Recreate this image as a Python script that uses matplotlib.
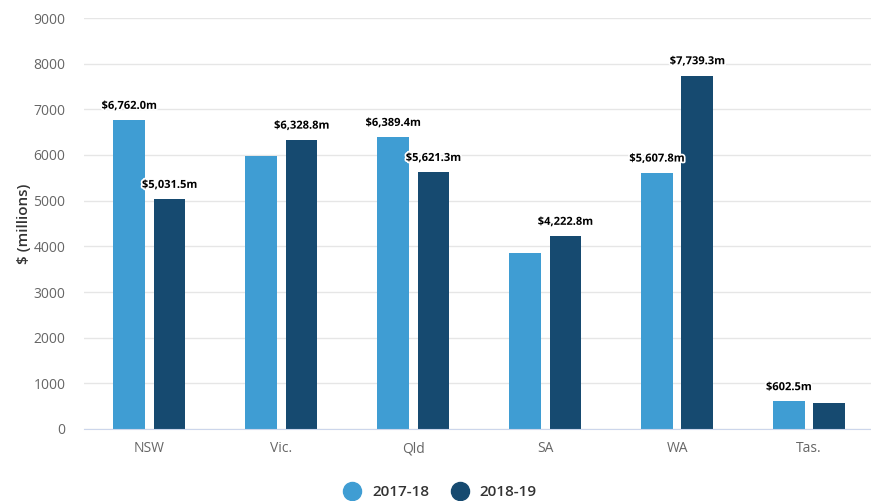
import matplotlib
matplotlib.use("Agg")
import matplotlib.pyplot as plt
import matplotlib.patheffects as pe
from matplotlib.lines import Line2D
import numpy as np

categories = ["NSW", "Vic.", "Qld", "SA", "WA", "Tas."]
series_names = ["2017-18", "2018-19"]
values_1718 = [6762.0, 5973.0, 6389.4, 3845.0, 5607.8, 602.5]
values_1819 = [5031.5, 6328.8, 5621.3, 4222.8, 7739.3, 570.0]
# which data labels are displayed (others hidden due to overlap in the original)
show_1718 = [True, False, True, False, True, True]
show_1819 = [True, True, True, True, True, False]
colors = ["#3f9dd3", "#164a70"]
yticks = [0, 1000, 2000, 3000, 4000, 5000, 6000, 7000, 8000, 9000]

plt.rcParams['font.family'] = ['Open Sans', 'DejaVu Sans']

fig = plt.figure(figsize=(8.71, 5.01), dpi=100)
ax = fig.add_axes([83.5/871, 72/501, (875-83.5)/871, (429-18)/501])

x = np.arange(len(categories))
w = 0.24
off = 0.153
for vals, shows, c, dx in [(values_1718, show_1718, colors[0], -off),
                           (values_1819, show_1819, colors[1], off)]:
    bars = ax.bar(x + dx, vals, width=w, color=c, zorder=3)
    for xi, v, s in zip(x, vals, shows):
        if s:
            t = ax.annotate(f"${v:,.1f}m", (xi + dx, v), xytext=(0, 6),
                            textcoords="offset points", ha="center", va="bottom",
                            fontsize=8, fontweight="bold", color="#000000", zorder=5)
            t.set_path_effects([pe.withStroke(linewidth=2.5, foreground="white")])

ax.set_xlim(-0.5, len(categories) - 0.5)
ax.set_ylim(0, 9000)
ax.set_yticks(yticks)
ax.set_yticklabels([str(v) for v in yticks])
ax.set_xticks(x)
ax.set_xticklabels(categories)
ax.grid(axis="y", color="#e6e6e6", linewidth=1, zorder=0)
ax.set_axisbelow(True)
for s in ["top", "right", "left"]:
    ax.spines[s].set_visible(False)
ax.spines["bottom"].set_color("#ccd6eb")
ax.spines["bottom"].set_zorder(4)
ax.tick_params(axis="y", length=0, pad=13, labelsize=10, labelcolor="#666666")
ax.tick_params(axis="x", length=0, pad=9, labelsize=10, labelcolor="#666666")
ax.set_ylabel("$ (millions)", fontsize=11, color="#333333", labelpad=2,
              fontweight="semibold")

handles = [Line2D([0], [0], marker="o", linestyle="", markersize=13,
                  markerfacecolor=c, markeredgecolor=c) for c in colors]
fig.legend(handles, series_names, loc="center", bbox_to_anchor=(437/871, 1 - 492/501),
           ncol=2, frameon=False, fontsize=11, handletextpad=0.3, columnspacing=1.0,
           labelcolor="#333333", prop={"size": 11, "weight": "semibold"})

fig.savefig("out.png", dpi=100)
